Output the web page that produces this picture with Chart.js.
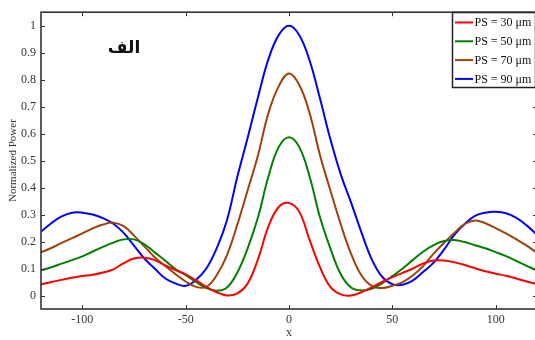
<!DOCTYPE html>
<html>
<head>
<meta charset="utf-8">
<script src="https://cdn.jsdelivr.net/npm/chart.js@4/dist/chart.umd.min.js"></script>
<style>
  html, body { margin: 0; padding: 0; background: #fff; overflow: hidden; }
  #wrap { width: 538px; height: 340px; }
</style>
</head>
<body>
<div id="wrap"><canvas id="chart" width="538" height="340"></canvas></div>
<script>
/* Normalized power vs x, four PS values */

const X_VALUES = [-120,-115,-110,-105,-100,-95,-90,-85,-80,-75,-70,-65,-60,-55,-50,-45,-40,-35,-30,-25,-20,-15,-10,-5,
  0,5,10,15,20,25,30,35,40,45,50,55,60,65,70,75,80,85,90,95,100,105,110,115,120];

const PS30 = [0.041,0.050,0.058,0.066,0.072,0.077,0.085,0.097,0.120,0.137,0.140,0.131,0.112,0.095,0.078,0.056,0.032,0.012,0.000,0.008,0.045,0.135,0.255,0.328,
  0.343,0.310,0.205,0.105,0.032,0.004,0.000,0.012,0.030,0.050,0.068,0.084,0.100,0.119,0.130,0.130,0.123,0.113,0.101,0.090,0.081,0.073,0.063,0.052,0.042];

const PS50 = [0.093,0.105,0.118,0.131,0.145,0.163,0.180,0.196,0.208,0.208,0.190,0.160,0.130,0.098,0.075,0.050,0.028,0.018,0.030,0.085,0.175,0.290,0.440,0.550,
  0.587,0.550,0.440,0.290,0.175,0.080,0.030,0.019,0.025,0.045,0.072,0.100,0.132,0.163,0.187,0.202,0.206,0.198,0.186,0.175,0.161,0.146,0.128,0.110,0.092];

const PS70 = [0.160,0.176,0.195,0.213,0.230,0.249,0.263,0.270,0.257,0.222,0.182,0.142,0.110,0.080,0.052,0.032,0.032,0.075,0.150,0.263,0.390,0.520,0.675,0.775,
  0.823,0.780,0.675,0.520,0.390,0.265,0.155,0.075,0.036,0.028,0.036,0.050,0.075,0.110,0.155,0.195,0.232,0.265,0.278,0.268,0.250,0.230,0.208,0.185,0.158];

const PS90 = [0.237,0.268,0.293,0.307,0.307,0.300,0.287,0.266,0.232,0.185,0.137,0.100,0.064,0.045,0.036,0.058,0.100,0.175,0.280,0.440,0.585,0.735,0.875,0.965,
  1.000,0.965,0.870,0.730,0.580,0.450,0.345,0.235,0.135,0.070,0.042,0.040,0.056,0.088,0.122,0.170,0.225,0.265,0.295,0.307,0.310,0.305,0.288,0.260,0.225];

const SERIES_LABELS = ['PS = 30 \u03bcm', 'PS = 50 \u03bcm', 'PS = 70 \u03bcm', 'PS = 90 \u03bcm'];
const SERIES_COLORS = ['#ff0000', '#008000', '#a0400a', '#0000ff'];
const X_TICKS = [-100, -50, 0, 50, 100];
const Y_TICKS = [0, 0.1, 0.2, 0.3, 0.4, 0.5, 0.6, 0.7, 0.8, 0.9, 1];

const SERIF = '"Liberation Serif", "Times New Roman", serif';
const AXIS_COLOR = '#333333';

function toPoints(ys) {
  return X_VALUES.map(function (x, i) { return { x: x, y: ys[i] }; });
}

function lineDataset(label, ys, color) {
  return {
    label: label,
    data: toPoints(ys),
    borderColor: color,
    backgroundColor: color,
    borderWidth: 2,
    pointRadius: 0,
    tension: 0.4,
    fill: false
  };
}

/* frame, inward ticks (MATLAB style), boxed legend and the panel letter */
const decorations = {
  id: 'decorations',
  afterDraw: function (chart) {
    const ctx = chart.ctx;
    const a = chart.chartArea;
    const xs = chart.scales.x;
    const ys = chart.scales.y;
    const tl = 4;

    ctx.save();
    ctx.strokeStyle = AXIS_COLOR;
    ctx.lineWidth = 1;
    X_TICKS.forEach(function (v) {
      const px = Math.round(xs.getPixelForValue(v)) + 0.5;
      ctx.beginPath();
      ctx.moveTo(px, a.bottom); ctx.lineTo(px, a.bottom - tl);
      ctx.moveTo(px, a.top); ctx.lineTo(px, a.top + tl);
      ctx.stroke();
    });
    Y_TICKS.forEach(function (v) {
      const py = Math.round(ys.getPixelForValue(v)) + 0.5;
      ctx.beginPath();
      ctx.moveTo(a.left, py); ctx.lineTo(a.left + tl, py);
      ctx.moveTo(a.right, py); ctx.lineTo(a.right - tl, py);
      ctx.stroke();
    });

    ctx.lineWidth = 1.6;
    ctx.strokeRect(a.left, a.top, a.right - a.left, a.bottom - a.top);

    // legend box
    const lx = 452, ly = 12, lw = 83, lh = 75;
    ctx.fillStyle = '#ffffff';
    ctx.fillRect(lx, ly, lw, lh);
    ctx.lineWidth = 1.5;
    ctx.strokeStyle = '#222222';
    ctx.strokeRect(lx + 0.5, ly + 0.5, lw, lh);
    ctx.font = '12px ' + SERIF;
    ctx.textBaseline = 'middle';
    ctx.textAlign = 'left';
    chart.data.datasets.forEach(function (ds, i) {
      const ry = 22.5 + i * 18.8;
      ctx.strokeStyle = ds.borderColor;
      ctx.lineWidth = 2;
      ctx.beginPath();
      ctx.moveTo(455, ry); ctx.lineTo(473, ry);
      ctx.stroke();
      ctx.fillStyle = '#111111';
      ctx.fillText(ds.label, 474.5, ry + 0.5);
    });

    // panel letter
    ctx.font = 'bold 17px "DejaVu Sans", sans-serif';
    ctx.fillStyle = '#111111';
    ctx.textAlign = 'center';
    ctx.direction = 'rtl';
    ctx.fillText('\u0627\u0644\u0641', 124, 49);
    ctx.restore();
  }
};

new Chart(document.getElementById('chart'), {
  type: 'line',
  data: {
    datasets: [
      lineDataset(SERIES_LABELS[0], PS30, SERIES_COLORS[0]),
      lineDataset(SERIES_LABELS[1], PS50, SERIES_COLORS[1]),
      lineDataset(SERIES_LABELS[2], PS70, SERIES_COLORS[2]),
      lineDataset(SERIES_LABELS[3], PS90, SERIES_COLORS[3])
    ]
  },
  options: {
    responsive: false,
    animation: false,
    layout: { padding: { left: 0, top: 8, right: 1, bottom: 0 } },
    plugins: {
      legend: { display: false },
      tooltip: { enabled: false }
    },
    scales: {
      x: {
        type: 'linear',
        min: -120,
        max: 120,
        afterBuildTicks: function (s) { s.ticks = X_TICKS.map(function (v) { return { value: v }; }); },
        afterFit: function (s) { s.height = 31; },
        grid: { display: false, drawTicks: false },
        border: { display: false },
        ticks: {
          padding: 4,
          color: AXIS_COLOR,
          font: { family: SERIF, size: 12 },
          maxRotation: 0,
          callback: function (v) { return String(v); }
        },
        title: {
          display: true,
          text: 'x',
          color: AXIS_COLOR,
          font: { family: SERIF, size: 12 },
          padding: 0
        }
      },
      y: {
        type: 'linear',
        min: -0.05,
        max: 1.05,
        afterBuildTicks: function (s) { s.ticks = Y_TICKS.map(function (v) { return { value: v }; }); },
        afterFit: function (s) { s.width = 41; },
        grid: { display: false, drawTicks: false },
        border: { display: false },
        ticks: {
          padding: 5,
          color: AXIS_COLOR,
          font: { family: SERIF, size: 12 },
          callback: function (v) { return String(+v.toFixed(1)); }
        },
        title: {
          display: true,
          text: 'Normalized Power',
          color: AXIS_COLOR,
          font: { family: SERIF, size: 11 },
          padding: { top: 7, bottom: 0 }
        }
      }
    }
  },
  plugins: [decorations]
});
</script>
</body>
</html>
